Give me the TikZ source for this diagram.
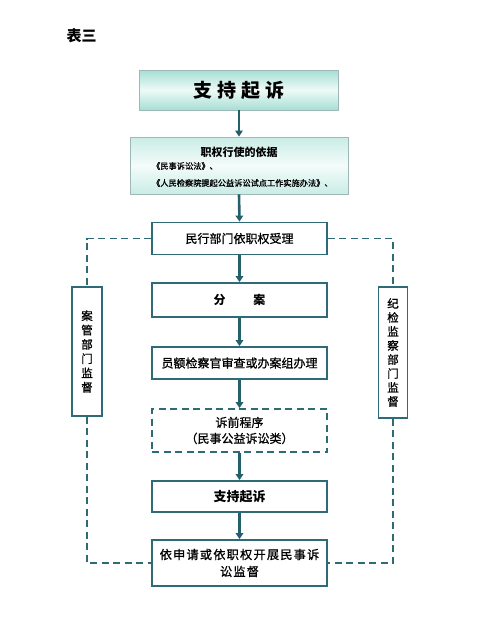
\documentclass[tikz,border=0pt]{standalone}
\usepackage{fontspec}
\setmainfont{Noto Sans CJK SC}
\newfontfamily\medfont{Noto Sans CJK SC}[FakeBold=0.9]
\usetikzlibrary{arrows.meta}
\definecolor{frame}{HTML}{2E6B77}
\definecolor{arrowc}{HTML}{24606C}
\definecolor{topc}{HTML}{A6DED4}
\definecolor{midc}{HTML}{EEFAF7}
\definecolor{topc2}{HTML}{C9ECE5}
\definecolor{midc2}{HTML}{F4FCFA}
\definecolor{edgec}{HTML}{9DB8B6}
\tikzset{
  flowbox/.style={draw=frame, line width=1.8pt, minimum width=175pt, inner sep=0pt, align=center, font=\fontsize{12}{17}\selectfont\medfont},
  sidebox/.style={draw=frame, line width=1.8pt, inner sep=0pt, align=center, font=\fontsize{11.5}{14.3}\selectfont\medfont},
  gradbox/.style={draw=edgec, line width=0.8pt, shading=axis, inner sep=0pt},
  arr/.style={draw=arrowc, line width=2.6pt, -{Triangle[length=6pt,width=7.5pt]}},
  dashline/.style={draw=frame, line width=1.8pt, dash pattern=on 7pt off 4.5pt},
}
\begin{document}
\begin{tikzpicture}[x=1pt,y=-1pt]
\useasboundingbox (0,0) rectangle (500,621);
\node[font=\fontsize{15}{15}\selectfont\bfseries, anchor=west] (title) at (63,36) {表三};
% top box
\node[gradbox, top color=topc, bottom color=topc, middle color=midc, minimum width=199pt, minimum height=40pt,
      font=\fontsize{19}{19}\selectfont\bfseries] (top) at (239,90) {支\hspace{5pt}持\hspace{5pt}起\hspace{5pt}诉};
% basis box
\node[gradbox, top color=topc2, bottom color=topc2, middle color=midc2, minimum width=218pt, minimum height=57pt] (basis) at (239,165.5) {};
\node[font=\fontsize{11}{11}\selectfont\bfseries] (basish) at (239,152) {职权行使的依据};
\node[font=\fontsize{8.2}{8.2}\selectfont\medfont, anchor=west, inner sep=0pt] (law1) at (152,166) {《民事诉讼法》、};
\node[font=\fontsize{8.2}{8.2}\selectfont\medfont, anchor=west, inner sep=0pt] (law2) at (152,183) {《人民检察院提起公益诉讼试点工作实施办法》、};
% flow boxes
\node[flowbox, minimum height=32pt] (accept) at (239.5,238.5) {民行部门依职权受理};
\node[flowbox, minimum height=34pt, font=\fontsize{12}{17}\selectfont\bfseries] (divide) at (239.5,300) {分\hspace{28pt}案};
\node[flowbox, minimum height=32pt] (handle) at (239.5,363) {员额检察官审查或办案组办理};
\node[flowbox, minimum height=43pt, dash pattern=on 7pt off 4.5pt] (pre) at (239.5,430.5) {诉前程序\\[-1pt]（民事公益诉讼类）};
\node[flowbox, minimum height=31pt, font=\fontsize{13}{17}\selectfont\bfseries] (support) at (239.5,496.5) {支持起诉};
\node[flowbox, minimum height=46pt, font=\fontsize{12.2}{17}\selectfont\medfont] (monitor) at (239.5,563) {依\hspace{1.2pt}申\hspace{1.2pt}请\hspace{1.2pt}或\hspace{1.2pt}依\hspace{1.2pt}职\hspace{1.2pt}权\hspace{1.2pt}开\hspace{1.2pt}展\hspace{1.2pt}民\hspace{1.2pt}事\hspace{1.2pt}诉\\讼\hspace{1.2pt}监\hspace{1.2pt}督};
% side boxes
\node[sidebox, minimum width=30pt, minimum height=129pt] (left) at (87,351.5) {案\\管\\部\\门\\监\\督};
\node[sidebox, minimum width=29pt, minimum height=131pt, font=\fontsize{11.5}{14}\selectfont\medfont] (right) at (393,352.5) {纪\\检\\监\\察\\部\\门\\监\\督};
% arrows
\draw[arr] (top.south) -- (basis.north);
\draw[arr] (basis.south) -- (accept.north);
\draw[arr] (accept.south) -- (divide.north);
\draw[arr] (divide.south) -- (handle.north);
\draw[arr] (handle.south) -- (pre.north);
\draw[arr] (pre.south) -- (support.north);
\draw[arr] (support.south) -- (monitor.north);
% dashed connectors
\draw[dashline] (accept.west) -| (left.north);
\draw[dashline] (accept.east) -| (right.north);
\draw[dashline] (left.south) |- (monitor.west);
\draw[dashline] (right.south) |- (monitor.east);
\end{tikzpicture}
\end{document}
